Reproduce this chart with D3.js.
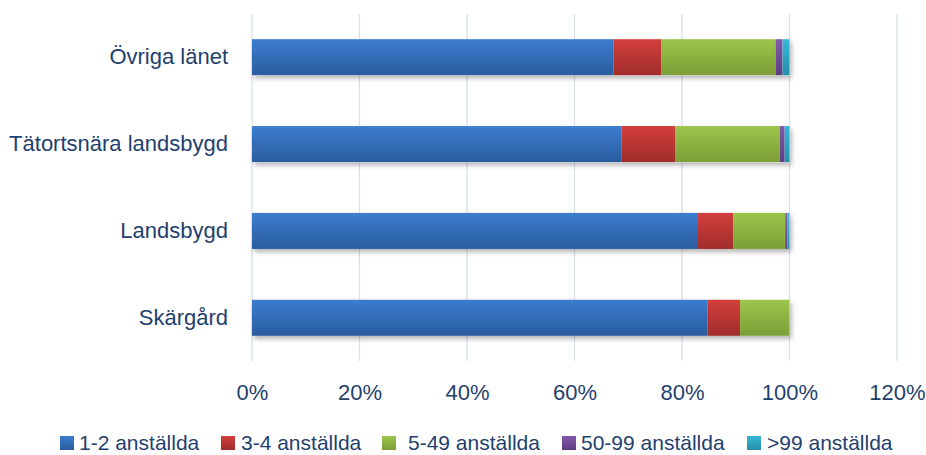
<!DOCTYPE html>
<html><head><meta charset="utf-8">
<script src="https://cdn.jsdelivr.net/npm/d3@7"></script>
<style>body{margin:0;background:#fff}svg{display:block}</style>
</head><body><svg id="c" width="926" height="455"></svg>
<script>
const categories = ["Övriga länet","Tätortsnära landsbygd","Landsbygd","Skärgård"];
const seriesNames = ["1-2 anställda","3-4 anställda","5-49 anställda","50-99 anställda",">99 anställda"];
const s12 = [67.3, 68.8, 82.8, 84.8];
const s34 = [8.9, 9.9, 6.7, 6.0];
const s549 = [21.2, 19.5, 9.7, 9.2];
const s5099 = [1.3, 0.9, 0.4, 0];
const s99 = [1.3, 0.9, 0.4, 0];
const tickValues = [0,20,40,60,80,100,120];
const colorsTop = ["#3C7DD0","#D23F3B","#9DC54B","#8059A9","#36B8D8"];
const colorsBot = ["#2A5C9E","#A02D2B","#7B9E37","#5E3E82","#258EA8"];

const svg = d3.select("#c");
const margin = {left:252, right:29, top:14, bottom:94};
const W = 926, H = 455;
const x = d3.scaleLinear().domain([0,120]).range([margin.left, W - margin.right]);
const y = d3.scaleBand().domain(categories).range([margin.top, H - margin.bottom]).paddingInner(0.585).paddingOuter(0.29);
const textColor = "#1F3F6E";
const font = "'Liberation Sans',Arial,sans-serif";

const defs = svg.append("defs");
colorsTop.forEach((c,i)=>{
  const g = defs.append("linearGradient").attr("id","g"+i).attr("x1",0).attr("y1",0).attr("x2",0).attr("y2",1);
  g.append("stop").attr("offset","0%").attr("stop-color",c);
  g.append("stop").attr("offset","100%").attr("stop-color",colorsBot[i]);
});
const f = defs.append("filter").attr("id","sh").attr("x","-5%").attr("y","-20%").attr("width","115%").attr("height","160%");
f.append("feDropShadow").attr("dx",2).attr("dy",3).attr("stdDeviation",2.5).attr("flood-color","#000").attr("flood-opacity",0.3);

// gridlines
svg.append("g").selectAll("line").data(tickValues).join("line")
  .attr("x1",d=>x(d)).attr("x2",d=>x(d)).attr("y1",margin.top).attr("y2",H-margin.bottom)
  .attr("stroke","#D9E1EC").attr("stroke-width",1.3);

const series = [s12,s34,s549,s5099,s99];
const rows = categories.map((c,i)=>{
  const o = {cat:c};
  seriesNames.forEach((s,j)=>o[s]=series[j][i]);
  return o;
});
const stacked = d3.stack().keys(seriesNames)(rows);

const barG = svg.append("g");
barG.append("g").attr("filter","url(#sh)").selectAll("rect").data(rows).join("rect")
  .attr("x",x(0)).attr("y",d=>y(d.cat)).attr("height",y.bandwidth())
  .attr("width",d=>x(d3.sum(seriesNames,s=>d[s]))-x(0)).attr("fill","#fff");
stacked.forEach((layer,j)=>{
  barG.append("g").selectAll("rect").data(layer).join("rect")
    .attr("x",d=>x(d[0])).attr("width",d=>Math.max(0,x(d[1])-x(d[0])))
    .attr("y",d=>y(d.data.cat)).attr("height",y.bandwidth())
    .attr("fill","url(#g"+j+")");
});

// x axis
const xa = svg.append("g").attr("transform",`translate(0,${H-margin.bottom})`)
  .call(d3.axisBottom(x).tickValues(tickValues).tickFormat(d=>d+"%").tickSize(0).tickPadding(23));
xa.select(".domain").remove();
xa.selectAll("text").attr("fill",textColor).style("font-family",font).style("font-size","22px");

// y axis
const ya = svg.append("g").attr("transform",`translate(${margin.left},0)`)
  .call(d3.axisLeft(y).tickSize(0).tickPadding(24));
ya.select(".domain").remove();
ya.selectAll("text").attr("fill",textColor).style("font-family",font).style("font-size","22px");

// legend
const legSq = [60,221,382,562,747];
const legTx = [79,241,408,581,767];
const lg = svg.append("g").selectAll("g").data(seriesNames).join("g");
lg.append("rect").attr("x",(d,i)=>legSq[i]).attr("y",436).attr("width",14).attr("height",14).attr("fill",(d,i)=>"url(#g"+i+")");
lg.append("text").attr("x",(d,i)=>legTx[i]).attr("y",450).text(d=>d)
  .attr("fill",textColor).style("font-family",font).style("font-size","21px");
</script></body></html>
